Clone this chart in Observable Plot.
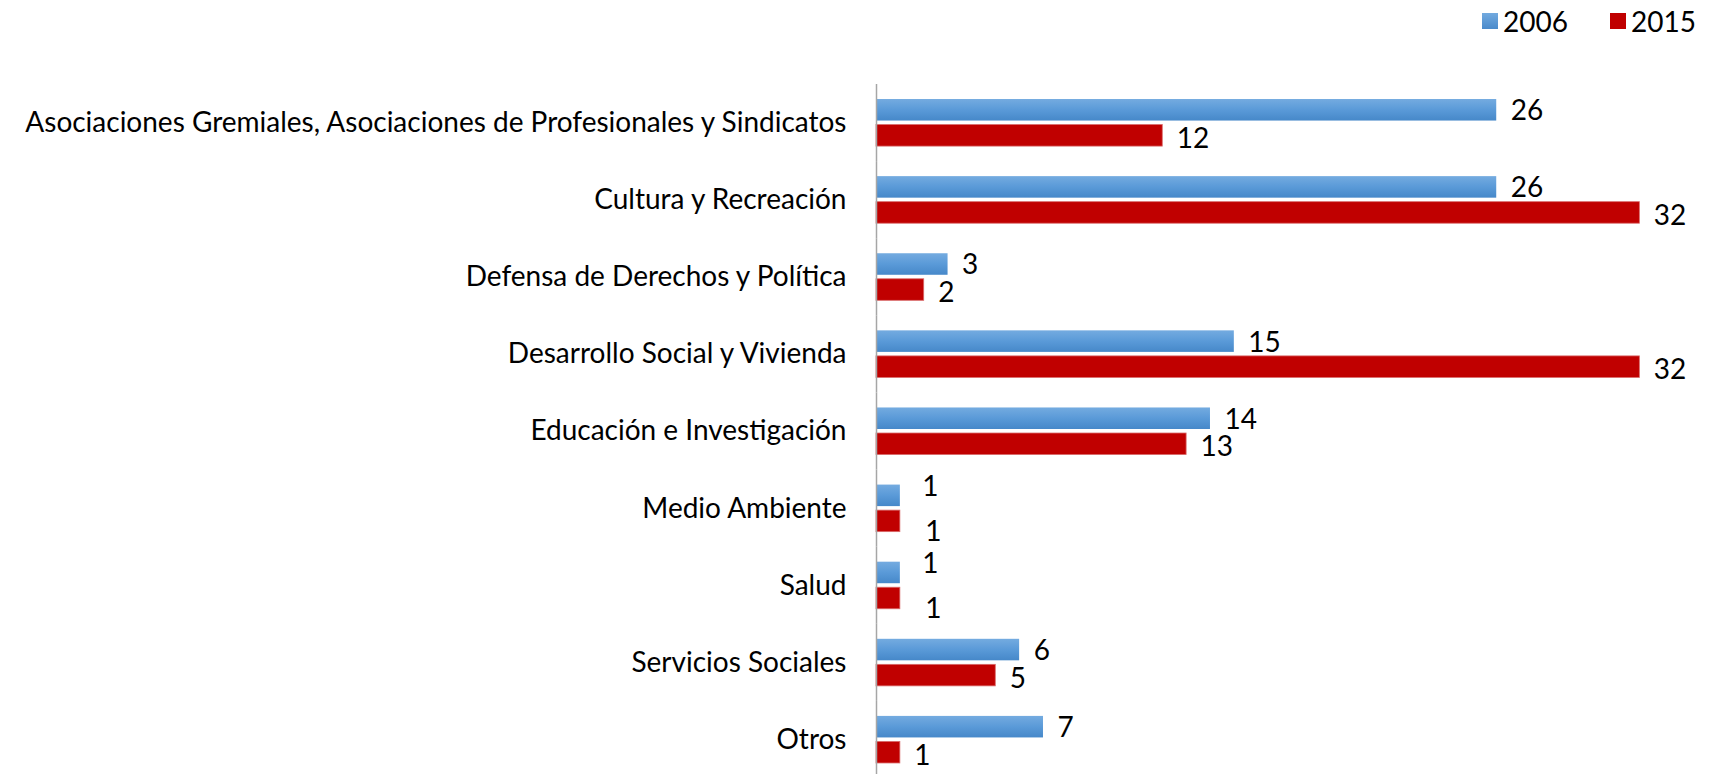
<!DOCTYPE html>
<html>
<head>
<meta charset="utf-8">
<script src="https://cdn.jsdelivr.net/npm/d3@7"></script>
<script src="https://cdn.jsdelivr.net/npm/@observablehq/plot@0.6"></script>
<style>
  html, body { margin: 0; padding: 0; background: #fff; }
  #wrap { width: 1709px; font-family: Lato, sans-serif; }
  #legend { position: relative; height: 45px; font-size: 28px; color: #000; }
  #legend .sw { position: absolute; width: 16px; height: 16px; top: 13px; }
  #legend .lb { position: absolute; top: 3px; line-height: 36px; }
</style>
</head>
<body>
<div id="wrap">
  <div id="legend"></div>
  <div id="chart"></div>
</div>
<script>
const categories = [
  "Asociaciones Gremiales, Asociaciones de Profesionales y Sindicatos",
  "Cultura y Recreación",
  "Defensa de Derechos y Política",
  "Desarrollo Social y Vivienda",
  "Educación e Investigación",
  "Medio Ambiente",
  "Salud",
  "Servicios Sociales",
  "Otros"
];
const years = ["2006", "2015"];
const v2006 = [26, 26, 3, 15, 14, 1, 1, 6, 7];
const v2015 = [12, 32, 2, 32, 13, 1, 1, 5, 1];

const rows = categories.flatMap((c, i) => [
  {category: c, year: "2006", value: v2006[i], other: v2015[i]},
  {category: c, year: "2015", value: v2015[i], other: v2006[i]}
]);

// legend
const legend = document.getElementById("legend");
const legendItems = [
  {year: "2006", fill: "linear-gradient(#72aadf, #4a8acb)", sx: 1482, tx: 1503},
  {year: "2015", fill: "#c00000", sx: 1610, tx: 1631}
];
for (const it of legendItems) {
  const sw = document.createElement("div");
  sw.className = "sw";
  sw.style.left = it.sx + "px";
  sw.style.background = it.fill;
  legend.appendChild(sw);
  const lb = document.createElement("div");
  lb.className = "lb";
  lb.style.left = it.tx + "px";
  lb.textContent = it.year;
  legend.appendChild(lb);
}

function defs() {
  const ns = "http://www.w3.org/2000/svg";
  const d = document.createElementNS(ns, "defs");
  const g = document.createElementNS(ns, "linearGradient");
  g.setAttribute("id", "grad2006");
  g.setAttribute("x1", "0"); g.setAttribute("y1", "0");
  g.setAttribute("x2", "0"); g.setAttribute("y2", "1");
  for (const [o, c] of [["0", "#74abe0"], ["0.5", "#5a9ad8"], ["1", "#4688c9"]]) {
    const s = document.createElementNS(ns, "stop");
    s.setAttribute("offset", o);
    s.setAttribute("stop-color", c);
    g.appendChild(s);
  }
  d.appendChild(g);
  return d;
}

// small equal labels would collide: push them apart (as the original does)
const crowded = d => d.value === d.other && d.value <= 2;
const labelsBlue = rows.filter(d => d.year === "2006");
const labelsRed = rows.filter(d => d.year === "2015");

const chart = Plot.plot({
  width: 1709,
  height: 729,
  marginLeft: 876,
  marginRight: 10,
  marginTop: 39,
  marginBottom: -4,
  style: {fontFamily: "Lato, sans-serif", fontSize: "28px", color: "#000", background: "#fff", overflow: "visible"},
  x: {domain: [0, 34.5], axis: null},
  y: {domain: years, axis: null, paddingInner: 0.157, paddingOuter: 0.588, round: false},
  fy: {domain: categories, padding: 0, round: false, label: null, tickSize: 0, tickPadding: 30},
  marks: [
    defs,
    Plot.barX(rows.filter(d => d.year === "2006"), {x: "value", y: "year", fy: "category", fill: "url(#grad2006)"}),
    Plot.barX(rows.filter(d => d.year === "2015"), {x: "value", y: "year", fy: "category", fill: "#c00000", stroke: "#d96a6a", strokeWidth: 0.8}),
    Plot.ruleX([0], {stroke: "#a6a6a6", strokeWidth: 1.5}),
    Plot.text(labelsBlue.filter(d => !crowded(d)), {x: "value", y: "year", fy: "category", text: d => String(d.value), dx: 14, dy: 1, textAnchor: "start", fill: "#000"}),
    Plot.text(labelsRed.filter(d => !crowded(d)), {x: "value", y: "year", fy: "category", text: d => String(d.value), dx: 14, dy: 3, textAnchor: "start", fill: "#000"}),
    Plot.text(labelsBlue.filter(crowded), {x: "value", y: "year", fy: "category", text: d => String(d.value), dx: 22, dy: -9, textAnchor: "start", fill: "#000"}),
    Plot.text(labelsRed.filter(crowded), {x: "value", y: "year", fy: "category", text: d => String(d.value), dx: 25, dy: 11, textAnchor: "start", fill: "#000"})
  ]
});
document.getElementById("chart").appendChild(chart);
</script>
</body>
</html>
